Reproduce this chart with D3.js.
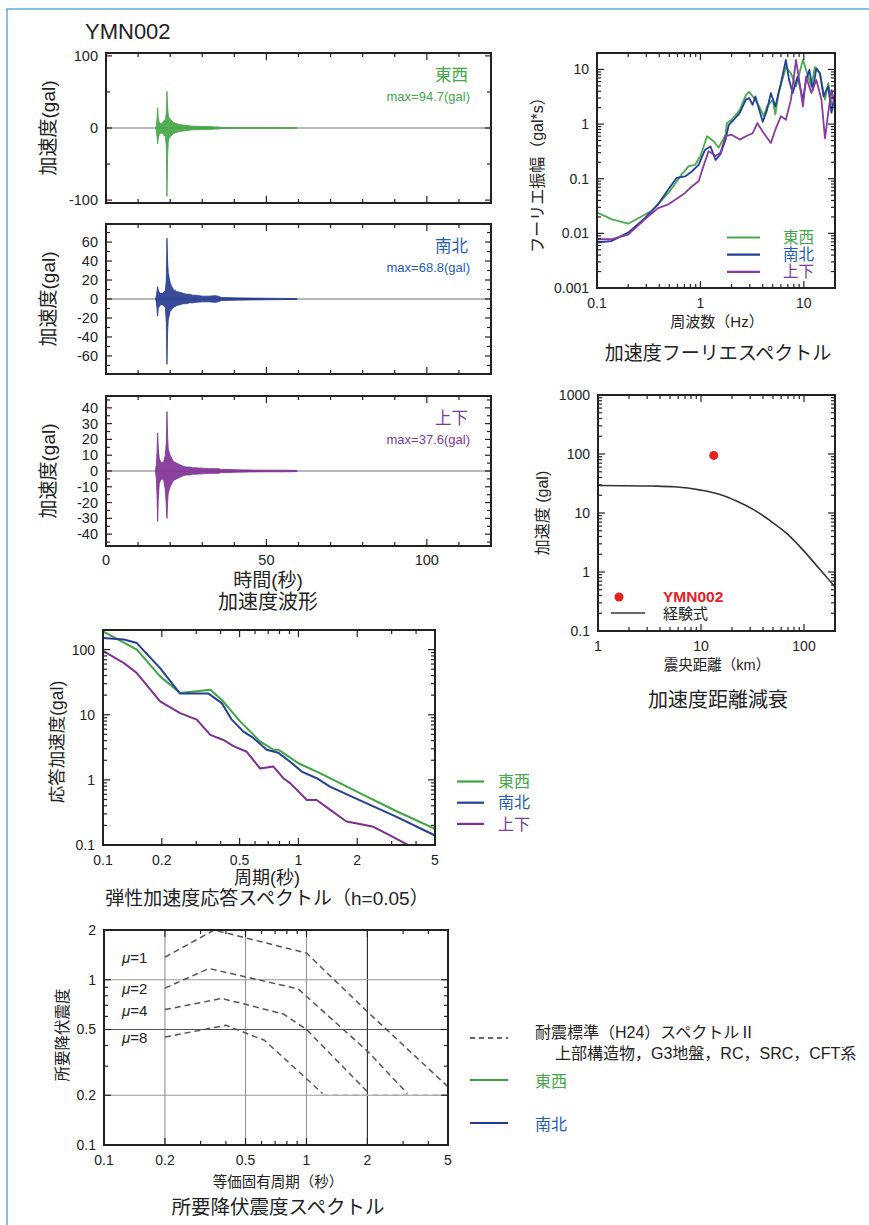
<!DOCTYPE html>
<html>
<head>
<meta charset="utf-8">
<script src="https://cdn.jsdelivr.net/npm/d3@7"></script>
<style>
    body { margin: 0; background: white; }
    svg { font-family: "Liberation Sans", "Noto Sans CJK JP", sans-serif; fill: #222; }
</style>
</head>
<body>
<script>
// --- acceleration waveform envelopes (gal) ---
var waveTime = [15.4, 15.7, 15.9, 16.1, 16.3, 16.6, 17.0, 17.5, 18.0, 18.5, 18.8, 19.0, 19.2, 19.4, 19.7, 20.0, 20.5, 21, 22, 23, 24, 25, 26, 27, 28, 30, 32, 34, 35, 36, 38, 40, 45, 50, 55, 59.5]
var ewUpper = [0, 3, 12, 28, 14, 8, 6, 7, 9, 12, 20, 51, 30, 18, 14, 12, 10, 8, 6, 5, 4, 3.5, 3, 2.5, 2.5, 2, 2, 1.5, 1.5, 0.8, 0.6, 0.5, 0.5, 0.5, 0.5, 0.5]
var ewLower = [0, -3, -12, -22, -14, -9, -7, -7, -9, -12, -25, -94.7, -40, -20, -14, -12, -10, -8, -6, -5, -4, -3.5, -3, -2.5, -2.5, -2, -2, -1.5, -1.5, -0.8, -0.6, -0.5, -0.5, -0.5, -0.5, -0.5]
var nsUpper = [0, 3, 8, 13, 9, 7, 6, 6, 7, 9, 20, 64, 40, 28, 22, 17, 13, 10, 8, 7, 6, 5, 5, 4, 4, 3, 3, 3.5, 3, 1.5, 1.5, 1.2, 1, 0.8, 0.6, 0.5]
var nsLower = [0, -3, -10, -18, -10, -8, -6, -6, -7, -9, -25, -68.8, -35, -22, -17, -13, -11, -9, -7, -6, -5, -5, -4, -4, -3.5, -3, -3, -3.5, -3, -1.5, -1.5, -1.2, -1, -0.8, -0.6, -0.5]
var udUpper = [0, 4, 12, 24, 14, 8, 6, 5, 6, 10, 18, 37.6, 22, 14, 12, 10, 8, 6, 5, 4, 3, 2.5, 2.5, 2, 2, 1.8, 1.5, 1.5, 1.5, 1, 1, 0.8, 0.6, 0.5, 0.5, 0.4]
var udLower = [0, -5, -15, -32, -18, -8, -6, -5, -6, -12, -22, -30, -20, -14, -12, -10, -8, -6, -5, -4, -3, -2.5, -2.5, -2, -2, -1.8, -1.5, -1.5, -1.5, -1, -1, -0.8, -0.6, -0.5, -0.5, -0.4]
var ewTicks = [-100, 0, 100]
var nsTicks = [-60, -40, -20, 0, 20, 40, 60]
var udTicks = [-40, -30, -20, -10, 0, 10, 20, 30, 40]
var timeTicks = [0, 50, 100]

// --- Fourier spectrum (gal*s) ---
var fourierFreqEW = [0.1, 0.14, 0.2, 0.34, 0.49, 0.66, 0.77, 0.89, 1.0, 1.16, 1.35, 1.5, 1.75, 1.8, 2.0, 2.4, 2.75, 2.95, 3.3, 3.7, 4.1, 4.4, 5.0, 5.3, 5.7, 6.7, 7.5, 8.4, 9.8, 10.5, 11.8, 12.8, 14.3, 16, 17.2, 18.5, 20]
var fourierEW = [0.024, 0.018, 0.015, 0.026, 0.055, 0.12, 0.17, 0.18, 0.26, 0.6, 0.48, 0.37, 0.64, 1.04, 1.2, 1.8, 3.4, 3.9, 3.0, 2.1, 1.4, 2.1, 2.8, 1.5, 3.7, 11, 8.5, 4.9, 15, 9.8, 4.9, 11, 8.5, 2.8, 5.6, 2.4, 2.1]
var fourierFreqNS = [0.1, 0.137, 0.2, 0.29, 0.39, 0.49, 0.59, 0.71, 0.83, 0.96, 1.11, 1.25, 1.4, 1.56, 1.75, 1.88, 2.1, 2.4, 2.75, 2.95, 3.2, 3.4, 4.0, 4.4, 4.8, 5.3, 6.0, 6.7, 7.2, 7.8, 8.7, 9.8, 10.5, 11.3, 12.2, 13.2, 14.3, 15.5, 17.2, 18.5, 20]
var fourierNS = [0.0068, 0.0072, 0.0103, 0.019, 0.034, 0.064, 0.104, 0.11, 0.137, 0.18, 0.34, 0.39, 0.22, 0.28, 0.52, 0.97, 1.2, 1.6, 2.8, 3.0, 2.25, 3.2, 1.1, 1.8, 3.7, 2.1, 5.6, 15, 6.4, 3.7, 7.4, 2.8, 6.4, 9.8, 4.2, 10.5, 8.5, 3.2, 4.9, 1.6, 3.7]
var fourierFreqUD = [0.1, 0.137, 0.2, 0.29, 0.39, 0.49, 0.61, 0.71, 0.83, 0.96, 1.07, 1.2, 1.4, 1.56, 1.75, 2.0, 2.4, 2.75, 3.2, 3.55, 4.0, 4.3, 4.8, 5.3, 6.0, 6.7, 7.5, 8.4, 9.1, 9.8, 10.5, 11.8, 13.2, 14.8, 16, 17.2, 18.5, 20]
var fourierUD = [0.0078, 0.0078, 0.0095, 0.018, 0.029, 0.034, 0.045, 0.055, 0.073, 0.09, 0.17, 0.32, 0.26, 0.3, 0.6, 0.64, 0.52, 0.6, 0.68, 1.04, 0.73, 0.6, 0.45, 0.79, 1.4, 1.2, 2.8, 15, 5.6, 2.1, 7.4, 3.7, 6.4, 2.8, 0.55, 1.6, 4.2, 2.1]
var fourierFreqTicks = [0.1, 1, 10]
var fourierAmpTicks = [0.001, 0.01, 0.1, 1, 10]

// --- attenuation with distance ---
var stationDistance = [13.3]
var stationPga = [94.7]
var empiricalDistance = [1, 3.4, 5.5, 10, 15.3, 22.4, 32.4, 47, 68, 99, 143, 200]
var empiricalPga = [29.3, 28.6, 27.8, 24.4, 20.6, 15.8, 11.4, 7.4, 4.5, 2.3, 1.1, 0.56]
var distanceTicks = [1, 10, 100]
var pgaTicks = [0.1, 1, 10, 100, 1000]

// --- elastic response spectrum h=0.05 (gal) ---
var periodEW = [0.1, 0.149, 0.196, 0.248, 0.302, 0.354, 0.405, 0.503, 0.636, 0.745, 0.79, 0.887, 1.0, 1.24, 1.45, 2.15, 3.18, 5.0]
var responseEW = [191, 100, 38.8, 21.6, 22.9, 24.2, 17, 7.9, 3.9, 2.9, 2.9, 2.3, 1.8, 1.34, 1.06, 0.59, 0.33, 0.177]
var periodNS = [0.1, 0.128, 0.149, 0.196, 0.248, 0.29, 0.347, 0.405, 0.456, 0.523, 0.588, 0.688, 0.79, 0.907, 1.04, 1.24, 1.45, 2.15, 3.18, 5.0]
var responseNS = [151, 143, 126, 52, 21.1, 21.1, 21.1, 15.1, 8.4, 5.5, 4.4, 2.9, 2.6, 1.9, 1.34, 1.06, 0.79, 0.46, 0.27, 0.14]
var periodUD = [0.1, 0.128, 0.149, 0.196, 0.248, 0.302, 0.354, 0.413, 0.465, 0.544, 0.636, 0.745, 0.837, 0.907, 1.105, 1.24, 1.45, 1.76, 2.06, 2.42, 2.94, 3.64]
var responseUD = [96, 62, 43.7, 16.1, 10.6, 8.4, 4.9, 4.1, 3.3, 2.7, 1.5, 1.6, 1.06, 0.89, 0.49, 0.49, 0.35, 0.23, 0.21, 0.19, 0.14, 0.1]
var periodTicks = [0.1, 0.2, 0.5, 1, 2, 5]
var responseTicks = [0.1, 1, 10, 100]

// --- required yield seismic coefficient (H24 spectrum II) ---
var yieldMu = ['1', '2', '4', '8']
var yieldPeriods = [
    [0.2, 0.35, 1.0, 2.0, 5.0],
    [0.2, 0.33, 0.91, 2.0, 3.15],
    [0.2, 0.38, 0.5, 0.77, 1.0, 2.0],
    [0.2, 0.4, 0.62, 0.94, 1.2]
]
var yieldLevels = [
    [1.37, 2.0, 1.45, 0.64, 0.225],
    [0.89, 1.17, 0.88, 0.37, 0.205],
    [0.66, 0.77, 0.71, 0.62, 0.5, 0.21],
    [0.45, 0.53, 0.43, 0.27, 0.205]
]
var yieldFloorPeriod = [1.2, 5.0]
var yieldFloorLevel = [0.2, 0.2]
var yieldTicks = [0.1, 0.2, 0.5, 1, 2]
var yieldGridPeriods = [0.2, 0.5, 1, 2]
var yieldGridLevels = [0.2, 0.5, 1]

var colors = { ew: '#3fa443', ns: '#22398f', ud: '#7e2f92' }
var textColors = { ew: '#45a849', ns: '#1f5db3', ud: '#7b3a9c' }

var svg = d3.select('body').append('svg')
    .attr('width', 869)
    .attr('height', 1225)

var defs = svg.append('defs')
var clipCount = 0

function clipFor(x, y) {
    var id = 'clip' + (clipCount++)
    defs.append('clipPath').attr('id', id).append('rect')
        .attr('x', x.range()[0])
        .attr('y', y.range()[1])
        .attr('width', x.range()[1] - x.range()[0])
        .attr('height', y.range()[0] - y.range()[1])
    return 'url(#' + id + ')'
}

function tick(g, x1, y1, x2, y2) {
    g.append('line')
        .attr('x1', x1).attr('y1', y1).attr('x2', x2).attr('y2', y2)
        .attr('stroke', '#222').attr('stroke-width', 1.2)
}

function label(text, x, y, size, opts) {
    opts = opts || {}
    var t = svg.append('text')
        .attr('x', x)
        .attr('y', y)
        .attr('font-size', size)
        .attr('text-anchor', opts.anchor || 'middle')
        .attr('dy', '0.35em')
        .attr('fill', opts.color || '#222')
        .text(text)
    if (opts.rotate) t.attr('transform', 'rotate(-90,' + x + ',' + y + ')')
    if (opts.bold) t.attr('font-weight', 'bold')
    return t
}

function fmt(d) { return String(d) }

function logFrame(x, y, xLabels, yLabels) {
    var g = svg.append('g')
    var l = x.range()[0], r = x.range()[1], b = y.range()[0], t = y.range()[1]
    x.ticks().forEach(function (d) {
        var len = xLabels.indexOf(d) >= 0 ? 7 : 4
        tick(g, x(d), b, x(d), b - len)
        tick(g, x(d), t, x(d), t + len)
    })
    y.ticks().forEach(function (d) {
        var len = yLabels.indexOf(d) >= 0 ? 7 : 4
        tick(g, l, y(d), l + len, y(d))
        tick(g, r, y(d), r - len, y(d))
    })
    g.append('rect')
        .attr('x', l).attr('y', t)
        .attr('width', r - l).attr('height', b - t)
        .attr('fill', 'none').attr('stroke', '#222').attr('stroke-width', 2)
    g.selectAll('text.xl').data(xLabels).enter().append('text')
        .attr('class', 'xl')
        .attr('x', function (d) { return x(d) })
        .attr('y', b + 20)
        .attr('text-anchor', 'middle')
        .attr('font-size', 14)
        .text(fmt)
    g.selectAll('text.yl').data(yLabels).enter().append('text')
        .attr('class', 'yl')
        .attr('x', l - 8)
        .attr('y', function (d) { return y(d) })
        .attr('dy', '0.35em')
        .attr('text-anchor', 'end')
        .attr('font-size', 14)
        .text(fmt)
    return g
}

function drawSeries(x, y, xs, ys, color, width, clip, curve) {
    var line = d3.line()
        .x(function (d, i) { return x(xs[i]) })
        .y(function (d) { return y(d) })
        .curve(curve || d3.curveLinear)
    return svg.append('path')
        .datum(ys)
        .attr('d', line)
        .attr('fill', 'none')
        .attr('stroke', color)
        .attr('stroke-width', width)
        .attr('stroke-linejoin', 'round')
        .attr('clip-path', clip)
}

// outer page border
svg.append('path')
    .attr('d', 'M7,1225V9H869')
    .attr('fill', 'none')
    .attr('stroke', '#5aaee0')
    .attr('stroke-width', 1.5)

svg.append('text')
    .attr('x', 85).attr('y', 39)
    .attr('font-size', 22)
    .attr('fill', '#222')
    .text('YMN002')

// ---------- waveforms ----------
var waveX = d3.scaleLinear().domain([0, 120]).range([106, 491])

var wavePanels = [
    { key: 'ew', name: '東西', max: 'max=94.7(gal)', upper: ewUpper, lower: ewLower, ticks: ewTicks, minor: 50, extent: 104, top: 53 },
    { key: 'ns', name: '南北', max: 'max=68.8(gal)', upper: nsUpper, lower: nsLower, ticks: nsTicks, minor: 10, extent: 79, top: 224 },
    { key: 'ud', name: '上下', max: 'max=37.6(gal)', upper: udUpper, lower: udLower, ticks: udTicks, minor: 5, extent: 47.5, top: 396 }
]

wavePanels.forEach(function (p, i) {
    var y = d3.scaleLinear().domain([-p.extent, p.extent]).range([p.top + 150, p.top])
    var g = svg.append('g')
    var l = waveX.range()[0], r = waveX.range()[1]

    g.append('line')
        .attr('x1', l).attr('x2', r)
        .attr('y1', y(0)).attr('y2', y(0))
        .attr('stroke', '#a0a0a0').attr('stroke-width', 1.3)

    var area = d3.area()
        .x(function (d, j) { return waveX(waveTime[j]) })
        .y0(function (d, j) { return y(p.lower[j]) })
        .y1(function (d) { return y(d) })
    g.append('path')
        .datum(p.upper)
        .attr('d', area)
        .attr('fill', colors[p.key])
        .attr('fill-opacity', 0.9)
        .attr('stroke', colors[p.key])
        .attr('stroke-width', 0.8)
        .attr('stroke-linejoin', 'round')

    d3.range(0, 121, 10).forEach(function (t) {
        var len = t % 50 === 0 ? 7 : 4
        tick(g, waveX(t), p.top + 150, waveX(t), p.top + 150 - len)
        tick(g, waveX(t), p.top, waveX(t), p.top + len)
    })
    d3.range(-Math.floor(p.extent / p.minor) * p.minor, p.extent, p.minor).forEach(function (v) {
        var len = p.ticks.indexOf(v) >= 0 ? 6 : 4
        tick(g, l, y(v), l + len, y(v))
        tick(g, r, y(v), r - len, y(v))
    })
    g.append('rect')
        .attr('x', l).attr('y', p.top)
        .attr('width', r - l).attr('height', 150)
        .attr('fill', 'none').attr('stroke', '#222').attr('stroke-width', 2)

    g.selectAll('text.yl').data(p.ticks).enter().append('text')
        .attr('x', l - 8)
        .attr('y', function (d) { return y(d) })
        .attr('dy', '0.35em')
        .attr('text-anchor', 'end')
        .attr('font-size', 14.5)
        .text(fmt)

    label(p.name, 468, p.top + 22, 16.5, { anchor: 'end', color: textColors[p.key] })
    label(p.max, 470, p.top + 43, 13, { anchor: 'end', color: textColors[p.key] })
    label('加速度(gal)', 48, p.top + 75, 19, { rotate: true })

    if (i === 2) {
        svg.selectAll('text.xt').data(timeTicks).enter().append('text')
            .attr('x', function (d) { return waveX(d) })
            .attr('y', p.top + 169)
            .attr('text-anchor', 'middle')
            .attr('font-size', 14.5)
            .text(fmt)
    }
})
label('時間(秒)', 268, 580, 19)
label('加速度波形', 268, 602, 20)

// ---------- Fourier spectrum ----------
var fx = d3.scaleLog().domain([0.1, 20]).range([597, 835])
var fy = d3.scaleLog().domain([0.001, 20]).range([288, 53])
var fclip = clipFor(fx, fy)
drawSeries(fx, fy, fourierFreqEW, fourierEW, '#4aaa4c', 1.8, fclip)
drawSeries(fx, fy, fourierFreqNS, fourierNS, '#22409a', 1.8, fclip)
drawSeries(fx, fy, fourierFreqUD, fourierUD, '#8a3aa2', 1.8, fclip)
logFrame(fx, fy, fourierFreqTicks, fourierAmpTicks)
;[['東西', '#4aaa4c', textColors.ew], ['南北', '#22409a', textColors.ns], ['上下', '#8a3aa2', textColors.ud]].forEach(function (d, i) {
    var yy = 237.5 + i * 17.2
    svg.append('line').attr('x1', 727).attr('x2', 760).attr('y1', yy).attr('y2', yy)
        .attr('stroke', d[1]).attr('stroke-width', 2.2)
    label(d[0], 783, yy, 15.5, { anchor: 'start', color: d[2] })
})
label('フーリエ振幅（gal*s）', 537, 171, 16, { rotate: true })
label('周波数（Hz）', 717, 322, 15)
label('加速度フーリエスペクトル', 718, 353, 19)

// ---------- attenuation ----------
var dx = d3.scaleLog().domain([1, 200]).range([598, 835])
var dy = d3.scaleLog().domain([0.1, 1000]).range([631, 395])
var dclip = clipFor(dx, dy)
drawSeries(dx, dy, empiricalDistance, empiricalPga, '#333', 1.6, dclip, d3.curveMonotoneX)
svg.selectAll('circle.station').data(stationPga).enter().append('circle')
    .attr('cx', function (d, i) { return dx(stationDistance[i]) })
    .attr('cy', function (d) { return dy(d) })
    .attr('r', 4.5)
    .attr('fill', '#e3211f')
logFrame(dx, dy, distanceTicks, pgaTicks)
svg.append('circle').attr('cx', 619).attr('cy', 597).attr('r', 4.5).attr('fill', '#e3211f')
label('YMN002', 663, 597, 15.5, { anchor: 'start', color: '#e3211f', bold: true })
svg.append('line').attr('x1', 611).attr('x2', 645).attr('y1', 613).attr('y2', 613)
    .attr('stroke', '#333').attr('stroke-width', 1.6)
label('経験式', 663, 614, 15, { anchor: 'start' })
label('加速度 (gal)', 542, 513, 16, { rotate: true })
label('震央距離（km）', 717, 665, 14.5)
label('加速度距離減衰', 718, 700, 20)

// ---------- response spectrum ----------
var rx = d3.scaleLog().domain([0.1, 5]).range([103, 435])
var ry = d3.scaleLog().domain([0.1, 200]).range([845, 630])
var rclip = clipFor(rx, ry)
drawSeries(rx, ry, periodEW, responseEW, '#3fa443', 2, rclip)
drawSeries(rx, ry, periodNS, responseNS, '#263f95', 2, rclip)
drawSeries(rx, ry, periodUD, responseUD, '#7e2f92', 2, rclip)
logFrame(rx, ry, periodTicks, responseTicks)
;[['東西', '#3fa443', textColors.ew], ['南北', '#263f95', textColors.ns], ['上下', '#7e2f92', textColors.ud]].forEach(function (d, i) {
    var yy = 781.5 + i * 21.2
    svg.append('line').attr('x1', 457).attr('x2', 484).attr('y1', yy).attr('y2', yy)
        .attr('stroke', d[1]).attr('stroke-width', 2.2)
    label(d[0], 498, yy, 16, { anchor: 'start', color: d[2] })
})
label('応答加速度(gal)', 57, 742, 17.5, { rotate: true })
label('周期(秒)', 267, 878, 18)
label('弾性加速度応答スペクトル（h=0.05）', 267, 898, 19)

// ---------- required yield coefficient spectrum ----------
var yx = d3.scaleLog().domain([0.1, 5]).range([104, 448])
var yy = d3.scaleLog().domain([0.1, 2]).range([1145, 930])
var yclip = clipFor(yx, yy)
yieldGridPeriods.forEach(function (d) {
    svg.append('line').attr('x1', yx(d)).attr('x2', yx(d)).attr('y1', yy.range()[0]).attr('y2', yy.range()[1])
        .attr('stroke', d === 2 ? '#333' : '#999').attr('stroke-width', 1.2)
})
yieldGridLevels.forEach(function (d) {
    svg.append('line').attr('x1', yx.range()[0]).attr('x2', yx.range()[1]).attr('y1', yy(d)).attr('y2', yy(d))
        .attr('stroke', d === 0.5 ? '#555' : '#999').attr('stroke-width', 1.2)
})
yieldLevels.forEach(function (levels, i) {
    drawSeries(yx, yy, yieldPeriods[i], levels, '#555', 1.5, yclip)
        .attr('stroke-dasharray', '6,4')
})
drawSeries(yx, yy, yieldFloorPeriod, yieldFloorLevel, '#aaa', 1.5, yclip)
    .attr('stroke-dasharray', '6,4')
logFrame(yx, yy, periodTicks, yieldTicks)
yieldMu.forEach(function (m, i) {
    var t = svg.append('text')
        .attr('x', 122)
        .attr('y', yy(yieldLevels[i][0]) + 6)
        .attr('font-size', 15)
    t.append('tspan').attr('font-style', 'italic').text('μ')
    t.append('tspan').text('=' + m)
})
label('所要降伏震度', 63, 1035, 15.5, { rotate: true })
label('等価固有周期（秒）', 278, 1182, 14.5)
label('所要降伏震度スペクトル', 278, 1207, 19.5)

svg.append('line').attr('x1', 470).attr('x2', 508).attr('y1', 1038).attr('y2', 1038)
    .attr('stroke', '#666').attr('stroke-width', 2).attr('stroke-dasharray', '5,4')
label('耐震標準（H24）スペクトルⅡ', 535, 1032, 16, { anchor: 'start' })
label('上部構造物，G3地盤，RC，SRC，CFT系', 555, 1053, 16, { anchor: 'start' })
svg.append('line').attr('x1', 470).attr('x2', 508).attr('y1', 1080).attr('y2', 1080)
    .attr('stroke', '#3fa443').attr('stroke-width', 2)
label('東西', 535, 1081, 16, { anchor: 'start', color: textColors.ew })
svg.append('line').attr('x1', 470).attr('x2', 508).attr('y1', 1123).attr('y2', 1123)
    .attr('stroke', '#22398f').attr('stroke-width', 2)
label('南北', 535, 1124, 16, { anchor: 'start', color: textColors.ns })
</script>
</body>
</html>
